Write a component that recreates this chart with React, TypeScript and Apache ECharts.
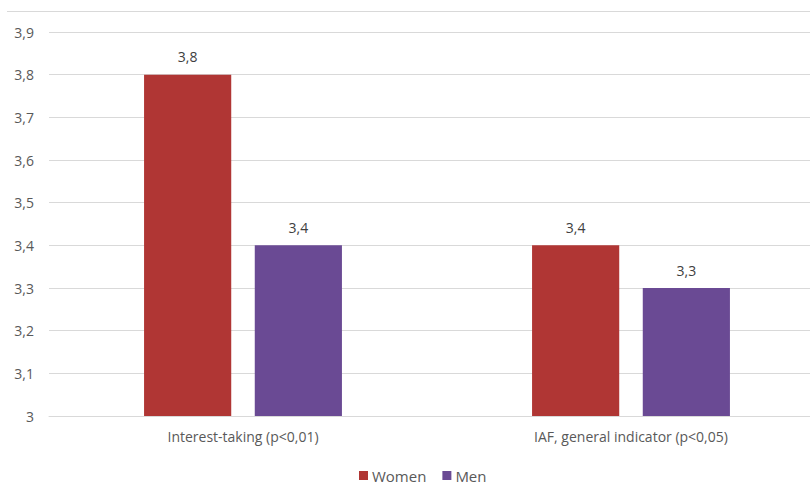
import React, { useEffect, useRef } from "react";
import * as echarts from "echarts";

const categories = ["Interest-taking (p<0,01)", "IAF, general indicator (p<0,05)"];
const women = [3.8, 3.4];
const men = [3.4, 3.3];
const seriesNames = ["Women", "Men"];

const fmt = (v: number) => String(Math.round(v * 10) / 10).replace(".", ",");

export default function App() {
  const ref = useRef<HTMLDivElement>(null);
  useEffect(() => {
    if (!ref.current) return;
    const chart = echarts.init(ref.current, undefined, { renderer: "svg" });
    const font = "'Open Sans', 'Noto Sans', sans-serif";
    chart.setOption({
      animation: false,
      textStyle: { fontFamily: font },
      grid: { left: 49, width: 776, top: 32, height: 384, containLabel: false, outerBoundsMode: "none" },
      legend: {
        data: seriesNames,
        left: 359,
        top: 468,
        padding: 0,
        itemWidth: 9,
        itemHeight: 9,
        itemGap: 16,
        icon: "rect",
        textStyle: { color: "#595959", fontSize: 15, lineHeight: 14, fontFamily: font, padding: [0, 0, 0, -1] },
      },
      xAxis: {
        type: "category",
        data: categories,
        axisLine: { lineStyle: { color: "#d9d9d9" } },
        axisTick: { show: false },
        axisLabel: { color: "#595959", fontSize: 14, fontFamily: font, margin: 13 },
      },
      yAxis: {
        type: "value",
        min: 3,
        max: 3.9,
        interval: 0.1,
        axisLine: { show: false },
        axisTick: { show: false },
        splitLine: { lineStyle: { color: "#d9d9d9" } },
        axisLabel: { color: "#595959", fontSize: 14, fontFamily: font, margin: 15, formatter: fmt },
      },
      graphic: [
        {
          type: "line",
          shape: { x1: 7, y1: 11.5, x2: 810, y2: 11.5 },
          style: { stroke: "#d9d9d9", lineWidth: 1 },
        },
      ],
      series: [
        {
          name: seriesNames[0],
          type: "bar",
          data: women,
          barGap: "27%",
          barCategoryGap: "49%",
          itemStyle: { color: "#b03634" },
          label: { show: true, position: "top", distance: 11, color: "#404040", fontSize: 14, fontFamily: font, formatter: (p: any) => fmt(p.value) },
        },
        {
          name: seriesNames[1],
          type: "bar",
          data: men,
          itemStyle: { color: "#6a4a94" },
          label: { show: true, position: "top", distance: 11, color: "#404040", fontSize: 14, fontFamily: font, formatter: (p: any) => fmt(p.value) },
        },
      ],
    });
    return () => chart.dispose();
  }, []);
  return (
    <div
      ref={ref}
      style={{ position: "fixed", left: 0, top: 0, width: 810, height: 484, background: "#fff" }}
    />
  );
}
